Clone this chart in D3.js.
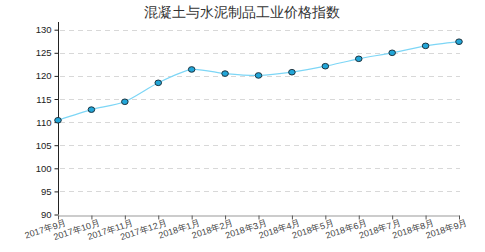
<!DOCTYPE html>
<html>
<head>
<meta charset="utf-8">
<script src="https://cdn.jsdelivr.net/npm/d3@7"></script>
<style>
  body { margin: 0; background: #fff; }
  svg { font-family: "DejaVu Sans", sans-serif; }
</style>
</head>
<body>
<svg id="svg" width="485" height="252"></svg>
<script>
var months = ["2017年9月", "2017年10月", "2017年11月", "2017年12月", "2018年1月", "2018年2月",
              "2018年3月", "2018年4月", "2018年5月", "2018年6月", "2018年7月", "2018年8月", "2018年9月"];
var values = [110.4, 112.7, 114.4, 118.5, 121.4, 120.5, 120.1, 120.8, 122.1, 123.7, 125.0, 126.5, 127.4];
var yTicks = [90, 95, 100, 105, 110, 115, 120, 125, 130];
var title = "混凝土与水泥制品工业价格指数";

var svg = d3.select("#svg");

var x = d3.scalePoint()
    .domain(months)
    .range([58, 459]);

var y = d3.scaleLinear()
    .domain([90, 130])
    .range([214.5, 29.7]);

svg.append("text")
    .attr("x", 242)
    .attr("y", 17)
    .attr("text-anchor", "middle")
    .attr("font-size", 14)
    .attr("fill", "#333")
    .text(title);

// grid
svg.append("g")
    .selectAll("line")
    .data(yTicks.slice(1))
    .enter().append("line")
      .attr("x1", 60)
      .attr("x2", 460)
      .attr("y1", function(d) { return Math.round(y(d)) + 0.5; })
      .attr("y2", function(d) { return Math.round(y(d)) + 0.5; })
      .attr("stroke", "#d8d8d8")
      .attr("stroke-dasharray", "5,4");

// y axis
var ya = svg.append("g")
    .attr("transform", "translate(58.5,0)")
    .call(d3.axisLeft(y).tickValues(yTicks).tickSize(4).tickFormat(d3.format("d")));
ya.select(".domain").attr("d", "M0,22V" + y(90)).attr("stroke", "#222");
ya.selectAll(".tick line").attr("stroke", "#222");
ya.selectAll("text").attr("font-size", 9.5).attr("fill", "#222").attr("x", -7);

// x axis
var xa = svg.append("g")
    .attr("transform", "translate(0," + (Math.round(y(90)) + 0.5) + ")")
    .call(d3.axisBottom(x).tickSize(4).tickSizeOuter(0));
xa.select(".domain").attr("stroke", "#999");
xa.selectAll(".tick line").attr("stroke", "#555");
xa.selectAll("text")
    .attr("font-size", 9)
    .attr("fill", "#444")
    .attr("text-anchor", "end")
    .attr("dy", null)
    .attr("x", 5)
    .attr("y", 12)
    .attr("transform", "rotate(-18)");

// line
var line = d3.line()
    .x(function(d, i) { return x(months[i]); })
    .y(function(d) { return y(d); })
    .curve(d3.curveCardinal.tension(0.3));

svg.append("path")
    .datum(values)
    .attr("fill", "none")
    .attr("stroke", "#7dd6f6")
    .attr("stroke-width", 1.2)
    .attr("d", line);

svg.append("g")
    .selectAll("ellipse")
    .data(values)
    .enter().append("ellipse")
      .attr("cx", function(d, i) { return x(months[i]); })
      .attr("cy", function(d) { return y(d); })
      .attr("rx", 3.3)
      .attr("ry", 2.8)
      .attr("fill", "#22a6d8")
      .attr("stroke", "#1d3440")
      .attr("stroke-width", 1);
</script>
</body>
</html>
